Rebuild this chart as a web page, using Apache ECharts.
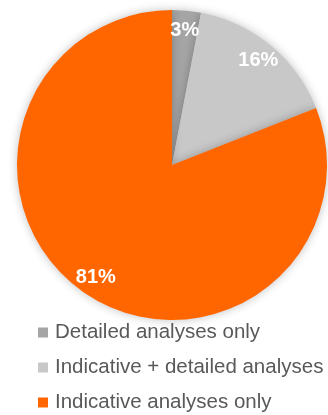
<!DOCTYPE html>
<html>
<head>
<meta charset="utf-8">
<script src="https://cdn.jsdelivr.net/npm/echarts@6/dist/echarts.min.js"></script>
<style>
  html, body { margin: 0; padding: 0; background: #fff; }
  #chart-container { width: 328px; height: 415px; }
</style>
</head>
<body>
<div id="chart-container"></div>
<script>
var categories = ["Detailed analyses only", "Indicative + detailed analyses", "Indicative analyses only"];
var values = [3, 16, 81];
var colors = ["#a5a5a5", "#c8c8c8", "#ff6600"];

var dom = document.getElementById("chart-container");
var myChart = echarts.init(dom, null, { renderer: "canvas" });

var data = categories.map(function (name, i) {
  return { name: name, value: values[i], itemStyle: { color: colors[i] } };
});

var option = {
  animation: false,
  legend: {
    orient: "vertical",
    left: 38,
    top: 322,
    height: 120,
    padding: 0,
    icon: "rect",
    itemWidth: 10,
    itemHeight: 10,
    itemGap: 14,
    textStyle: { fontSize: 20.5, color: "#595959", fontFamily: "Liberation Sans, Arial, sans-serif", padding: [0, 0, 0, 2] },
    data: categories,
  },
  series: [
    {
      // the pie itself
      type: "pie",
      center: [172, 165],
      radius: [0, 155],
      startAngle: 90,
      clockwise: true,
      label: { show: false },
      labelLine: { show: false },
      itemStyle: { shadowBlur: 10, shadowColor: "rgba(0,0,0,0.25)" },
      silent: true,
      data: data,
    },
    {
      // transparent ring only to place the labels near the rim
      type: "pie",
      center: [172, 165],
      radius: [110, 155],
      startAngle: 90,
      clockwise: true,
      silent: true,
      legendHoverLink: false,
      label: {
        show: true,
        position: "inside",
        formatter: "{d}%",
        color: "#fff",
        fontSize: 20,
        fontWeight: "bold",
        fontFamily: "Liberation Sans, Arial, sans-serif",
      },
      labelLine: { show: false },
      data: categories.map(function (name, i) {
        return { name: name, value: values[i], itemStyle: { color: "rgba(0,0,0,0)" } };
      }),
    },
  ],
};

myChart.setOption(option);
</script>
</body>
</html>
